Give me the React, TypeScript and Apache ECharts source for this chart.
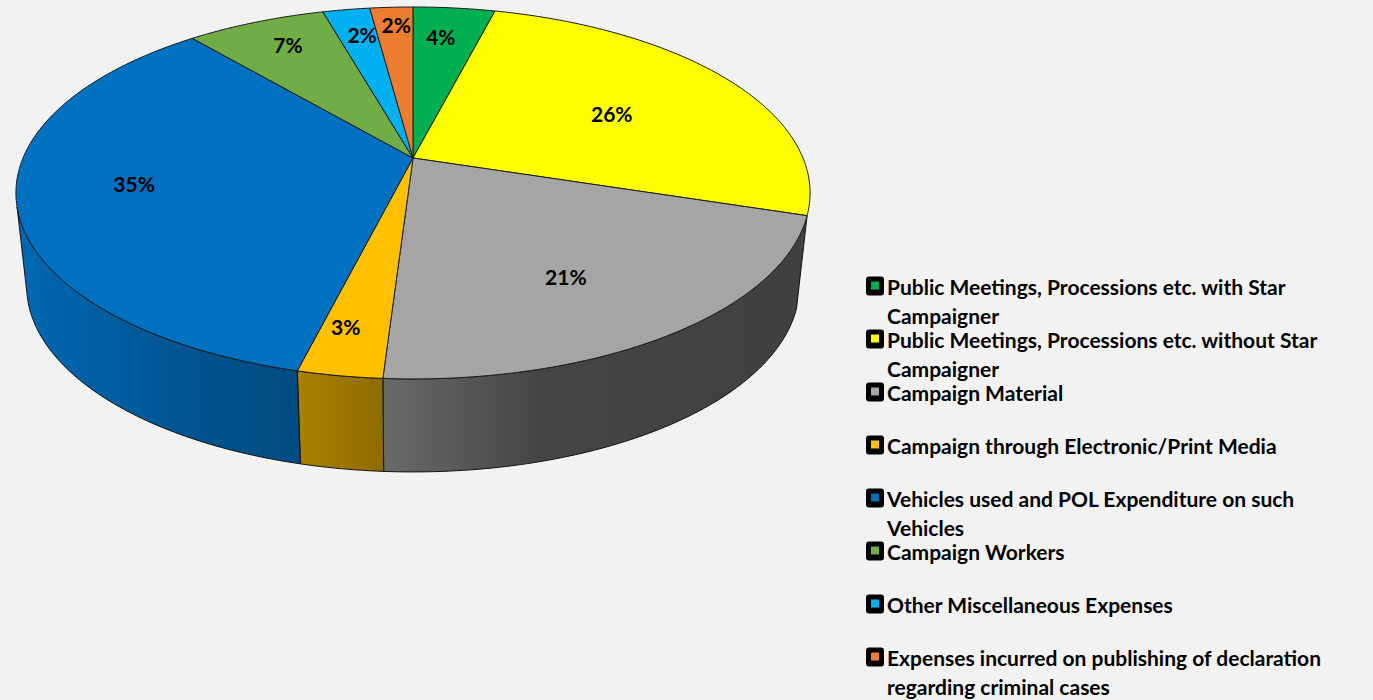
import React, { useEffect, useRef } from "react";
import * as echarts from "echarts";

const categories = [
  "Public Meetings, Processions etc. with Star\nCampaigner",
  "Public Meetings, Processions etc. without Star\nCampaigner",
  "Campaign Material",
  "Campaign through Electronic/Print Media",
  "Vehicles used and POL Expenditure on such\nVehicles",
  "Campaign Workers",
  "Other Miscellaneous Expenses",
  "Expenses incurred on publishing of declaration\nregarding criminal cases",
];
const values = [4.0, 25.9, 21.1, 2.9, 34.9, 6.8, 2.3, 2.1];
const colors = ["#00b050", "#ffff00", "#a5a5a5", "#ffc000", "#0070c0", "#70ad47", "#00b0f0", "#ed7d31"];

// Layout of the perspective pie
const CX = 413, CY = 158, A = 390, B = 179.4, K = 0.188;
const DEPTH_CY = 251, DEPTH_SX = 0.973;
const labelRadius = [0.784, 0.596, 0.685, 0.81, 0.71, 0.808, 0.808, 0.87];
const labelTurn = [-1.2, 2.8, 3.8, 1.6, 2.0, 1.3, 1.0, 0.5];
const VIS_FROM = 29.9, VIS_TO = 70.8;
// gradient stops of the rim: [x, brightness factor]
const rimShade: number[][] = [[17, 0.93], [200, 0.74], [296, 0.68], [297, 0.67], [383, 0.56], [384, 0.64], [540, 0.42], [807, 0.39]];

const total = values.reduce((a, b) => a + b, 0);
const starts: number[] = [];
values.reduce((acc, v, i) => { starts[i] = acc; return acc + (v / total) * 100; }, 0);

function project(pct: number, r = 1) {
  const phi = (pct / 100) * Math.PI * 2;
  const u = r * Math.sin(phi);
  const v = -r * Math.cos(phi);
  const d = 1 - K * v;
  return { X: (A * u) / d, Y: (B * v) / d };
}
const top = (p: number, r = 1) => { const q = project(p, r); return [CX + q.X, CY + q.Y]; };
const bottom = (p: number) => { const q = project(p); return [CX + q.X * DEPTH_SX, DEPTH_CY + q.Y]; };
function arc(from: number, to: number, fn: (p: number) => number[]) {
  const n = Math.max(2, Math.ceil((to - from) * 4));
  const pts: number[][] = [];
  for (let i = 0; i <= n; i++) pts.push(fn(from + ((to - from) * i) / n));
  return pts;
}
function shade(hex: number[], f: number) {
  return `rgb(${hex.map((c) => Math.round(c * f)).join(",")})`;
}
function rgb(hex: string) {
  return [1, 3, 5].map((i) => parseInt(hex.slice(i, i + 2), 16));
}

export default function App() {
  const ref = useRef<HTMLDivElement>(null);
  useEffect(() => {
    const chart = echarts.init(ref.current!, undefined, { renderer: "svg" });
    const FONT = "Lato";
    const legendItems: any[] = [];
    categories.forEach((name, i) => {
      const y = 286 + i * 53;
      legendItems.push({
        type: "rect", shape: { x: 866, y: y - 9.5, width: 18, height: 19, r: 3 },
        style: { fill: "#000" }, silent: true,
      });
      legendItems.push({
        type: "rect", shape: { x: 871, y: y - 4.5, width: 8, height: 8 },
        style: { fill: colors[i] }, silent: true,
      });
      legendItems.push({
        type: "text", x: 887, y: y - 14.5,
        style: {
          text: name, fill: "#000", font: `bold 21px ${FONT}`, lineHeight: 29,
          textVerticalAlign: "top", verticalAlign: "top", align: "left",
        },
        silent: true,
      });
    });
    chart.setOption({
      animation: false,
      backgroundColor: "#f2f2f2",
      graphic: { elements: legendItems },
      series: [
        {
          type: "custom", coordinateSystem: "none", silent: true, z: 1,
          data: values.map((v, i) => ({ name: categories[i], value: [v] })),
          renderItem: (params: any, api: any) => {
            const i = params.dataIndex;
            const from = Math.max(starts[i], VIS_FROM);
            const to = Math.min(starts[i] + api.value(0), VIS_TO);
            if (to <= from) return { type: "group", children: [] };
            const base = rgb(colors[i]);
            const x0 = 17, x1 = 807;
            const stops = rimShade.map(([x, f]) => ({ offset: (x - x0) / (x1 - x0), color: shade(base, f) }));
            const pts = [...arc(from, to, top), ...arc(from, to, bottom).reverse()];
            return {
              type: "polygon", shape: { points: pts },
              style: {
                fill: new echarts.graphic.LinearGradient(x0, 0, x1, 0, stops, true),
                stroke: "#111", lineWidth: 1, lineJoin: "round",
              },
            };
          },
        },
        {
          type: "custom", coordinateSystem: "none", silent: true, z: 2,
          data: values.map((v, i) => ({ name: categories[i], value: [v] })),
          renderItem: (params: any, api: any) => {
            const i = params.dataIndex;
            const v = api.value(0);
            const from = starts[i];
            const to = from + v;
            const pts = [[CX, CY], ...arc(from, to, top)];
            const mid = (from + to) / 2 + labelTurn[i] / 3.6;
            const p = top(mid, labelRadius[i]);
            return {
              type: "group",
              children: [
                {
                  type: "polygon", shape: { points: pts },
                  style: { fill: colors[i], stroke: "#1c1c1c", lineWidth: 1, lineJoin: "round" },
                },
                {
                  type: "text", z2: 10, x: p[0], y: p[1],
                  style: {
                    text: `${Math.round(v)}%`, fill: "#000", font: `bold 21px ${FONT}`,
                    align: "center", verticalAlign: "middle",
                  },
                },
              ],
            };
          },
        },
      ],
    });
    return () => chart.dispose();
  }, []);
  return <div ref={ref} style={{ position: "absolute", left: 0, top: 0, width: 1373, height: 700 }} />;
}
